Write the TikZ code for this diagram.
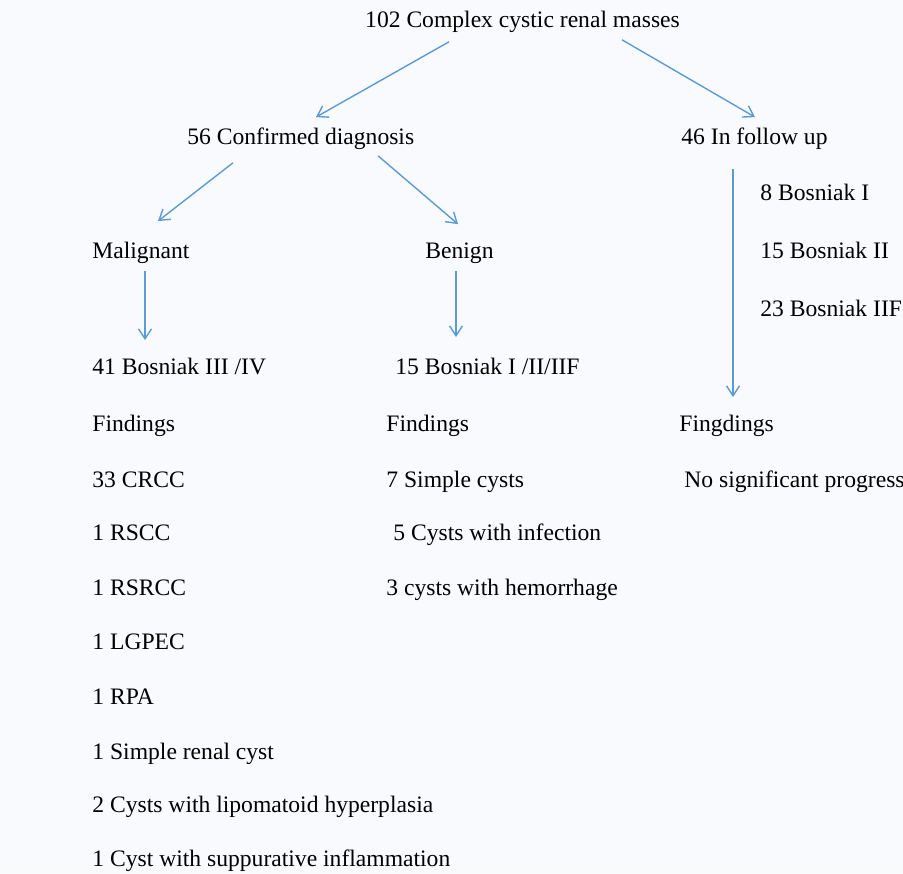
\documentclass[tikz,border=0pt]{standalone}
\usepackage{fontspec}
\setmainfont{Liberation Serif}
\usetikzlibrary{arrows.meta,positioning}
\definecolor{arrowblue}{RGB}{91,155,213}
\definecolor{paper}{RGB}{249,250,253}
\tikzset{
  txt/.style={inner sep=0pt,anchor=base west,text height=0.7em,text depth=0.22em,
    font=\fontsize{11.8}{14}\selectfont},
  link/.style={->,draw=arrowblue,line width=0.7pt}
}
\begin{document}
\begin{tikzpicture}[x=0.5pt,y=-0.5pt,>={Straight Barb[length=5pt,width=6.5pt]}]
\fill[paper] (0,0) rectangle (903,873);
\useasboundingbox (0,0) rectangle (903,873);
% top levels
\node[txt,anchor=base] (root) at (522.5,27) {102 Complex cystic renal masses};
\node[txt] (cd) at (187,144) {56 Confirmed diagnosis};
\node[txt] (fu) at (681,144) {46 In follow up};
\node[txt] (mal) at (92,258) {Malignant};
\node[txt] (ben) at (425,258) {Benign};
% follow up
\node[txt] (b1) at (760,200) {8 Bosniak I};
\node[txt] (b2) at (760,258) {15 Bosniak II};
\node[txt] (b3) at (760,316) {23 Bosniak IIF};
\node[txt] (fgd) at (679,431) {Fingdings};
\node[txt] (nsp) at (684,487) {No significant progress};
% malignant column
\node[txt] (m0) at (92,374) {41 Bosniak III /IV};
\node[txt] (m1) at (92,431) {Findings};
\node[txt] (m2) at (92,487) {33 CRCC};
\node[txt] (m3) at (92,540) {1 RSCC};
\node[txt] (m4) at (92,595) {1 RSRCC};
\node[txt] (m5) at (92,649) {1 LGPEC};
\node[txt] (m6) at (92,704) {1 RPA};
\node[txt] (m7) at (92,759) {1 Simple renal cyst};
\node[txt] (m8) at (92,812) {2 Cysts with lipomatoid hyperplasia};
\node[txt] (m9) at (92,866) {1 Cyst with suppurative inflammation};
% benign column
\node[txt] (n0) at (395,374) {15 Bosniak I /II/IIF};
\node[txt] (n1) at (386,431) {Findings};
\node[txt] (n2) at (386,487) {7 Simple cysts};
\node[txt] (n3) at (393,540) {5 Cysts with infection};
\node[txt] (n4) at (386,595) {3 cysts with hemorrhage};
% arrows
\draw[link] ([shift={(-73.5,10)}]root.south) -- ([shift={(129,-12.5)}]cd.north west);
\draw[link] ([shift={(99.5,8)}]root.south) -- ([shift={(74,-12.5)}]fu.north west);
\draw[link] ([shift={(46,14)}]cd.south west) -- ([shift={(66,-22.5)}]mal.north west);
\draw[link] ([shift={(191,7)}]cd.south west) -- ([shift={(33,-19.5)}]ben.north west);
\draw[link] ([shift={(53,8)}]mal.south west) -- ([shift={(53,-19.5)}]m0.north west);
\draw[link] ([shift={(31,8)}]ben.south west) -- ([shift={(61,-22.5)}]n0.north west);
\draw[link] ([shift={(52,20)}]fu.south west) -- ([shift={(54,-19.5)}]fgd.north west);
\end{tikzpicture}
\end{document}
